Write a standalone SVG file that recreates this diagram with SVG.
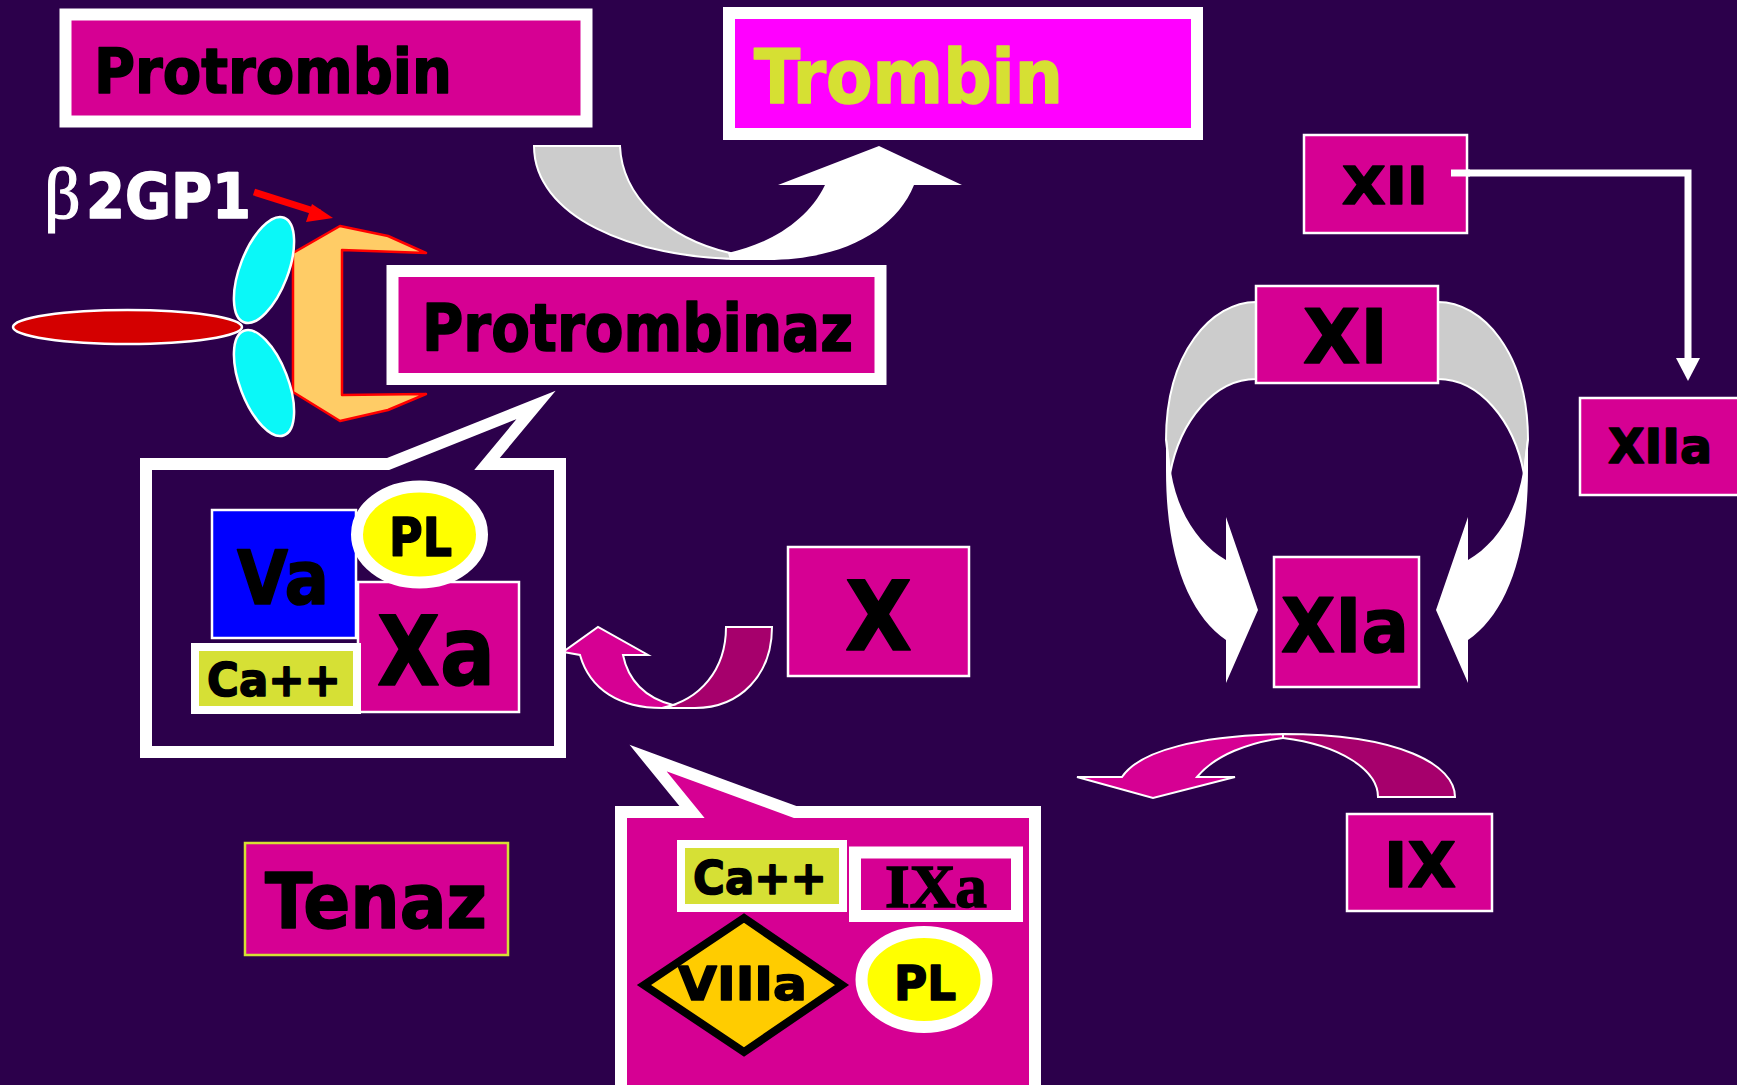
<svg xmlns="http://www.w3.org/2000/svg" width="1737" height="1085" viewBox="0 0 1737 1085">
  <style>
    .lbl { font-family: "DejaVu Sans", Verdana, sans-serif; font-weight: bold; fill: #000; stroke: #000; stroke-width: 1.6; stroke-linejoin: round; }
    .box { fill: #D60093; stroke: #FFFFFF; stroke-width: 2.5; }
    .frame { fill: #D60093; stroke: #FFFFFF; stroke-width: 12; }
    .ca { fill: #D6E035; stroke: #FFFFFF; stroke-width: 8; }
    .pl { fill: #FFFF00; stroke: #FFFFFF; stroke-width: 12; }
    .back { fill: #CCCCCC; stroke: #FFFFFF; stroke-width: 2; }
    .front { fill: #FFFFFF; }
    .mag { fill: #D60093; stroke: #FFFFFF; stroke-width: 2; }
    .magdark { fill: #A6006C; stroke: #FFFFFF; stroke-width: 2; }
  </style>

  <!-- background -->
  <rect x="0" y="0" width="1737" height="1085" fill="#2C004B"/>

  <!-- connectors -->
  <g id="connectors">
    <!-- Protrombin to Trombin curved arrow -->
    <path class="back" d="M 534,146 L 620,146 C 622,195 665,238 730,253 L 745,259 C 630,259 534,215 534,146 Z"/>
    <path class="front" d="M 728,253 C 772,243 808,220 825,185 L 778,185 L 879,146 L 962,185 L 914,185 C 895,232 840,260 767,260 L 730,260 Z"/>

    <!-- XII to XIIa elbow arrow -->
    <polyline points="1451,173 1688,173 1688,360" fill="none" stroke="#FFFFFF" stroke-width="7"/>
    <polygon points="1676,358 1700,358 1688,381" fill="#FFFFFF"/>

    <!-- XI to XIa, left and right curved arrows -->
    <g id="xi-left">
      <path class="back" d="M 1256,302 C 1212,302 1166,352 1166,440 L 1170,474 C 1180,420 1215,379 1256,379 Z"/>
      <path class="front" d="M 1166,430 L 1166,470 C 1166,560 1190,615 1226,640 L 1226,683 L 1258,610 L 1226,517 L 1226,560 C 1200,545 1178,515 1171,472 Z"/>
    </g>
    <g id="xi-right" transform="translate(2694,0) scale(-1,1)">
      <path class="back" d="M 1256,302 C 1212,302 1166,352 1166,440 L 1170,474 C 1180,420 1215,379 1256,379 Z"/>
      <path class="front" d="M 1166,430 L 1166,470 C 1166,560 1190,615 1226,640 L 1226,683 L 1258,610 L 1226,517 L 1226,560 C 1200,545 1178,515 1171,472 Z"/>
    </g>

    <!-- IX to XIa curved arrow -->
    <path class="magdark" d="M 1283,734 C 1400,734 1455,765 1455,797 L 1378,797 C 1378,770 1340,745 1283,738 Z"/>
    <path class="mag" d="M 1283,734 C 1200,736 1140,750 1122,777 L 1077,777 L 1153,798 L 1235,777 L 1197,777 C 1215,755 1250,742 1283,738 Z"/>

    <!-- X to prothrombinase curved arrow -->
    <path class="magdark" d="M 726,627 L 772,627 C 772,675 740,708 695,708 L 662,708 C 700,700 726,670 726,627 Z"/>
    <path class="mag" d="M 673,705 C 645,698 628,680 623,655 L 648,655 L 598,627 L 563,652 L 580,655 C 590,690 620,708 662,708 Z"/>

    <!-- beta2GP1 pointer -->
    <line x1="254" y1="192" x2="320" y2="213" stroke="#FF0000" stroke-width="7"/>
    <polygon points="333,218 312,204 306,222" fill="#FF0000"/>
  </g>

  <!-- Protrombin -->
  <g id="node-protrombin">
    <rect class="frame" x="65.5" y="14.5" width="521" height="107"/>
    <text class="lbl" x="94" y="93" font-size="63" textLength="358" lengthAdjust="spacingAndGlyphs">Protrombin</text>
  </g>

  <!-- Trombin -->
  <g id="node-trombin">
    <rect x="729" y="13" width="468" height="121" fill="#FF00FF" stroke="#FFFFFF" stroke-width="12"/>
    <text class="lbl" x="754" y="103" font-size="75" textLength="309" lengthAdjust="spacingAndGlyphs" style="fill:#D6E033;stroke:#D6E033">Trombin</text>
  </g>

  <!-- beta2GP1 bound to membrane -->
  <g id="node-b2gp1">
    <text x="44" y="218" font-family="'Liberation Serif', serif" font-size="72" fill="#FFFFFF" stroke="#FFFFFF" stroke-width="1.2">β</text>
    <text class="lbl" x="86" y="218" font-size="63" textLength="165" lengthAdjust="spacingAndGlyphs" style="fill:#FFFFFF;stroke:#FFFFFF">2GP1</text>
    <polygon points="293,253 340,226 388,236 426,253 342,250 342,395 426,394 388,410 340,421 293,392" fill="#FFCC66" stroke="#FF0000" stroke-width="2.5" stroke-linejoin="round"/>
    <ellipse cx="127.5" cy="327" rx="114.5" ry="17" fill="#D40000" stroke="#FFFFFF" stroke-width="2.5"/>
    <ellipse cx="0" cy="0" rx="24" ry="56" transform="translate(264,270) rotate(21)" fill="#0AF8F8" stroke="#FFFFFF" stroke-width="2.5"/>
    <ellipse cx="0" cy="0" rx="24" ry="56" transform="translate(264,383) rotate(-21)" fill="#0AF8F8" stroke="#FFFFFF" stroke-width="2.5"/>
  </g>

  <!-- Protrombinaz -->
  <g id="node-protrombinaz">
    <rect class="frame" x="392.5" y="271" width="488" height="108"/>
    <text class="lbl" x="422" y="351" font-size="66" textLength="431" lengthAdjust="spacingAndGlyphs">Protrombinaz</text>
  </g>

  <!-- prothrombinase complex callout -->
  <g id="node-complex-xa">
    <path d="M 146,464 L 388,464 L 536,405 L 487,464 L 560,464 L 560,752 L 146,752 Z" fill="#2C004B" stroke="#FFFFFF" stroke-width="12" stroke-miterlimit="10"/>
    <rect x="212" y="510" width="144" height="128" fill="#0000FF" stroke="#FFFFFF" stroke-width="2.5"/>
    <text class="lbl" x="237" y="604" font-size="74" textLength="92" lengthAdjust="spacingAndGlyphs">Va</text>
    <rect class="box" x="358" y="582" width="161" height="130"/>
    <text class="lbl" x="377" y="685" font-size="96" textLength="118" lengthAdjust="spacingAndGlyphs">Xa</text>
    <ellipse class="pl" cx="419.5" cy="534.5" rx="62.5" ry="48"/>
    <text class="lbl" x="389" y="556" font-size="54" textLength="63" lengthAdjust="spacingAndGlyphs">PL</text>
    <rect class="ca" x="195" y="647" width="162" height="63"/>
    <text class="lbl" x="207" y="696" font-size="47" textLength="134" lengthAdjust="spacingAndGlyphs">Ca++</text>
  </g>

  <!-- X -->
  <g id="node-x">
    <rect class="box" x="788" y="547" width="181" height="129"/>
    <text class="lbl" x="845" y="650" font-size="96" textLength="67" lengthAdjust="spacingAndGlyphs">X</text>
  </g>

  <!-- Tenaz -->
  <g id="node-tenaz">
    <rect x="245" y="843" width="263" height="112" fill="#D60093" stroke="#D6E033" stroke-width="2.5"/>
    <text class="lbl" x="265" y="928" font-size="76" textLength="222" lengthAdjust="spacingAndGlyphs">Tenaz</text>
  </g>

  <!-- tenase complex callout -->
  <g id="node-complex-ixa">
    <path d="M 621,812 L 692,812 L 648,758 L 795,812 L 1035,812 L 1035,1100 L 621,1100 Z" fill="#D60093" stroke="#FFFFFF" stroke-width="12" stroke-miterlimit="10"/>
    <polygon points="644,985 744,918 842,985 744,1052" fill="#FFCC00" stroke="#000000" stroke-width="8"/>
    <text class="lbl" x="678" y="1000" font-size="46" textLength="129" lengthAdjust="spacingAndGlyphs">VIIIa</text>
    <rect class="ca" x="681" y="844" width="162" height="64"/>
    <text class="lbl" x="693" y="894" font-size="47" textLength="134" lengthAdjust="spacingAndGlyphs">Ca++</text>
    <rect class="frame" x="855" y="852.5" width="162" height="63.5"/>
    <text x="885" y="907" font-family="'Liberation Serif', serif" font-weight="bold" font-size="62" textLength="102" lengthAdjust="spacingAndGlyphs" fill="#000000" stroke="#000000" stroke-width="1.5">IXa</text>
    <ellipse class="pl" cx="924" cy="979.5" rx="62.5" ry="47.5"/>
    <text class="lbl" x="894" y="1000" font-size="48" textLength="62" lengthAdjust="spacingAndGlyphs">PL</text>
  </g>

  <!-- XII -->
  <g id="node-xii">
    <rect class="box" x="1304" y="135" width="163" height="98"/>
    <text class="lbl" x="1342" y="204" font-size="52" textLength="86" lengthAdjust="spacingAndGlyphs">XII</text>
  </g>
  <!-- start of the XII line, drawn over its box -->
  <line x1="1451" y1="173" x2="1470" y2="173" stroke="#FFFFFF" stroke-width="7"/>

  <!-- XIIa -->
  <g id="node-xiia">
    <rect class="box" x="1580" y="398" width="170" height="97"/>
    <text class="lbl" x="1608" y="463" font-size="48" textLength="104" lengthAdjust="spacingAndGlyphs">XIIa</text>
  </g>

  <!-- XI -->
  <g id="node-xi">
    <rect class="box" x="1256" y="286" width="182" height="97"/>
    <text class="lbl" x="1303" y="363" font-size="74" textLength="85" lengthAdjust="spacingAndGlyphs">XI</text>
  </g>

  <!-- XIa -->
  <g id="node-xia">
    <rect class="box" x="1274" y="557" width="145" height="130"/>
    <text class="lbl" x="1281" y="652" font-size="75" textLength="128" lengthAdjust="spacingAndGlyphs">XIa</text>
  </g>

  <!-- IX -->
  <g id="node-ix">
    <rect class="box" x="1347" y="814" width="145" height="97"/>
    <text class="lbl" x="1384" y="887" font-size="63" textLength="72" lengthAdjust="spacingAndGlyphs">IX</text>
  </g>
</svg>
